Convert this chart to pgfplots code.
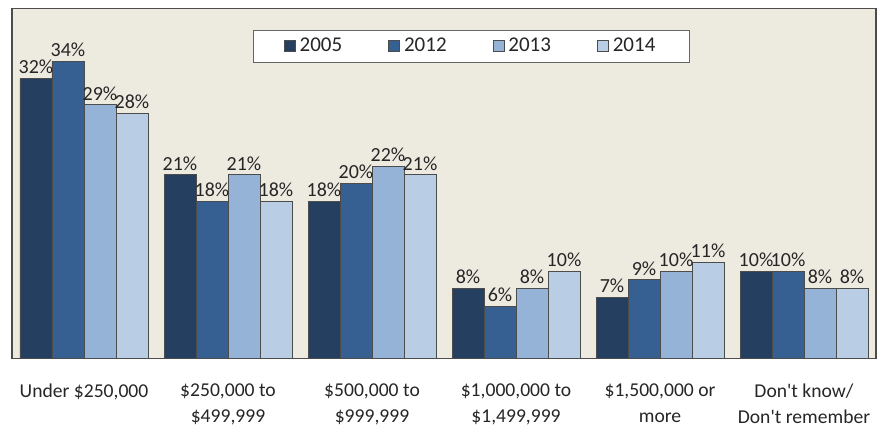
\documentclass[border=0pt]{standalone}
\usepackage{fontspec}
\setmainfont{Carlito}
\usepackage{pgfplots}
\pgfplotsset{compat=1.18}

\definecolor{bgc}{HTML}{EDEAE0}
\definecolor{cA}{HTML}{243F60}
\definecolor{cB}{HTML}{366092}
\definecolor{cC}{HTML}{95B3D7}
\definecolor{cD}{HTML}{B9CDE5}
\definecolor{txt}{HTML}{262626}

\begin{document}
\begin{tikzpicture}
\begin{axis}[
  scale only axis,
  width=432pt, height=175pt,
  ybar=0pt, bar width=16pt,
  xmin=-0.5, xmax=5.5,
  ymin=0, ymax=40,
  axis background/.style={fill=bgc},
  axis line style={black!70, line width=0.6pt},
  ytick=\empty,
  xtick={0,1,2,3,4,5},
  xtick style={draw=none},
  xticklabels={{Under \$250,000}, {\$250,000 to\\\$499,999}, {\$500,000 to\\\$999,999},
    {\$1,000,000 to\\\$1,499,999}, {\$1,500,000 or\\more},
    {Don\textquotesingle t know/\\Don\textquotesingle t remember}},
  xticklabel style={align=center, font=\fontsize{9.8}{13}\selectfont, text=txt, yshift=-5pt},
  /pgf/number format/assume math mode=true,
  nodes near coords={\pgfmathprintnumber{\pgfplotspointmeta}\%},
  every node near coord/.append style={font=\fontsize{10}{12}\selectfont, text=txt, inner sep=2pt},
  legend columns=4,
  legend style={at={(0.532,0.94)}, anchor=north, draw=black!60, fill=white,
    font=\fontsize{10.5}{12}\selectfont, text=txt,
    inner xsep=15pt, inner ysep=2pt,
    /tikz/every even column/.append style={column sep=21pt}},
  legend image code/.code={\draw[#1, draw=black!70] (0pt,-2.75pt) rectangle (5.5pt,2.75pt);},
]
\addplot[fill=cA, draw=black!70, line width=0.4pt] coordinates {(0,32)(1,21)(2,18)(3,8)(4,7)(5,10)};
\addlegendentry{2005}
\addplot[fill=cB, draw=black!70, line width=0.4pt] coordinates {(0,34)(1,18)(2,20)(3,6)(4,9)(5,10)};
\addlegendentry{2012}
\addplot[fill=cC, draw=black!70, line width=0.4pt] coordinates {(0,29)(1,21)(2,22)(3,8)(4,10)(5,8)};
\addlegendentry{2013}
\addplot[fill=cD, draw=black!70, line width=0.4pt] coordinates {(0,28)(1,18)(2,21)(3,10)(4,11)(5,8)};
\addlegendentry{2014}
\end{axis}
\path ([shift={(-6pt,-32.5pt)}]current axis.south west) rectangle ([shift={(1pt,3pt)}]current axis.north east);
\end{tikzpicture}
\end{document}
